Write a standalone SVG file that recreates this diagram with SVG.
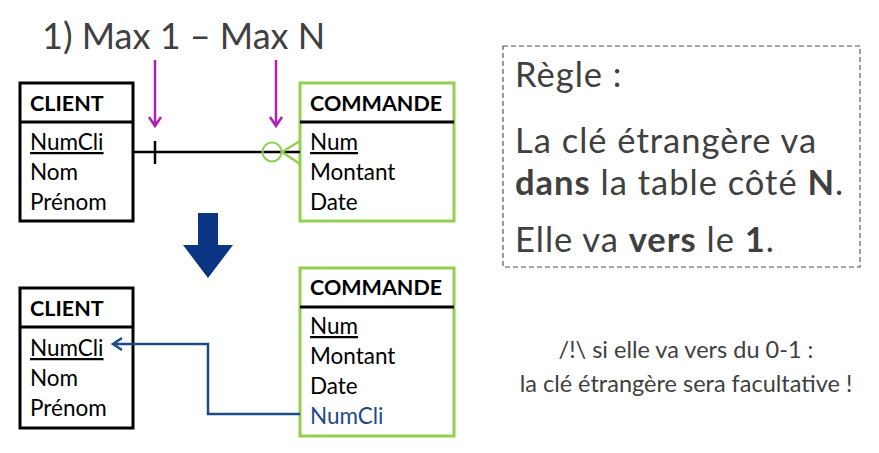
<svg xmlns="http://www.w3.org/2000/svg" width="879" height="453" viewBox="0 0 879 453">
<defs>
<style>
.t{font-family:Lato,"Liberation Sans",sans-serif;}
.box{fill:#fff;stroke:#000;stroke-width:3;}
.gbox{fill:#fff;stroke:#92d050;stroke-width:3;}
.sep{stroke:#000;stroke-width:3;}
.f{font-family:Lato,"Liberation Sans",sans-serif;font-size:22.5px;fill:#000;}
.h{font-weight:bold;font-size:21.5px;}
.g{fill:#404040;}
.big{font-size:34.5px;letter-spacing:1px;}
.note{font-size:23.5px;}
.mag{stroke:#b01fb8;stroke-width:2.5;fill:none;}
</style>
</defs>
<text class="t g" x="42" y="49" font-size="36">1) Max 1 – Max N</text>

<g id="client-top">
<rect class="box" x="20" y="83" width="113" height="138"/>
<line class="sep" x1="20" y1="122" x2="133" y2="122"/>
<text class="f h" x="30" y="111">CLIENT</text>
<text class="f" x="30" y="150" text-decoration="underline">NumCli</text>
<text class="f" x="30" y="180">Nom</text>
<text class="f" x="30" y="210">Prénom</text>
</g>

<g id="commande-top">
<rect class="gbox" x="300" y="83" width="154" height="138"/>
<line class="sep" x1="300" y1="122" x2="454" y2="122"/>
<text class="f h" x="310" y="111">COMMANDE</text>
<text class="f" x="310" y="150" text-decoration="underline">Num</text>
<text class="f" x="310" y="180">Montant</text>
<text class="f" x="310" y="210">Date</text>
</g>

<g id="client-bottom">
<rect class="box" x="20" y="288" width="113" height="140"/>
<line class="sep" x1="20" y1="327" x2="133" y2="327"/>
<text class="f h" x="30" y="316">CLIENT</text>
<text class="f" x="30" y="356" text-decoration="underline">NumCli</text>
<text class="f" x="30" y="386">Nom</text>
<text class="f" x="30" y="416">Prénom</text>
</g>

<g id="commande-bottom">
<rect class="gbox" x="300" y="268" width="154" height="168"/>
<line class="sep" x1="300" y1="307" x2="454" y2="307"/>
<text class="f h" x="310" y="295">COMMANDE</text>
<text class="f" x="310" y="334" text-decoration="underline">Num</text>
<text class="f" x="310" y="364">Montant</text>
<text class="f" x="310" y="394">Date</text>
<text class="f" x="310" y="424" style="fill:#1f4a8a">NumCli</text>
</g>

<g id="connectors">
<line x1="133" y1="152" x2="300" y2="152" stroke="#000" stroke-width="2.5"/>
<line x1="155" y1="141" x2="155" y2="164" stroke="#000" stroke-width="2.5"/>
<circle cx="272" cy="152" r="9.5" fill="none" stroke="#92d050" stroke-width="2"/>
<path d="M282 152 L300 141 M282 152 L300 164" stroke="#92d050" stroke-width="2.5" fill="none"/>
<path class="mag" d="M155 60 V126 M149 117 L155 126 L161 117"/>
<path class="mag" d="M276 60 V126 M270 117 L276 126 L282 117"/>
<path d="M300 414 H208 V344 H113" fill="none" stroke="#1f4a8a" stroke-width="2.5"/>
<path d="M122 338 L113 344 L122 350" fill="none" stroke="#1f4a8a" stroke-width="2.5"/>
<path d="M198 213 H218 V245 H233 L208 278 L183 245 H198 Z" fill="#0b3583"/>
</g>

<g id="rule">
<rect x="503" y="46" width="357" height="221" fill="none" stroke="#555" stroke-width="1.2" stroke-dasharray="5,3"/>
<text class="t g big" x="515" y="87">Règle :</text>
<text class="t g big" x="515" y="153">La clé étrangère va</text>
<text class="t g big" x="515" y="195"><tspan font-weight="bold">dans</tspan> la table côté <tspan font-weight="bold">N</tspan>.</text>
<text class="t g big" x="515" y="252">Elle va <tspan font-weight="bold">vers</tspan> le <tspan font-weight="bold">1</tspan>.</text>
</g>

<g id="note">
<text class="t g note" x="686" y="358" text-anchor="middle">/!\ si elle va vers du 0-1 :</text>
<text class="t g note" x="686" y="392" text-anchor="middle">la clé étrangère sera facultative !</text>
</g>
</svg>
